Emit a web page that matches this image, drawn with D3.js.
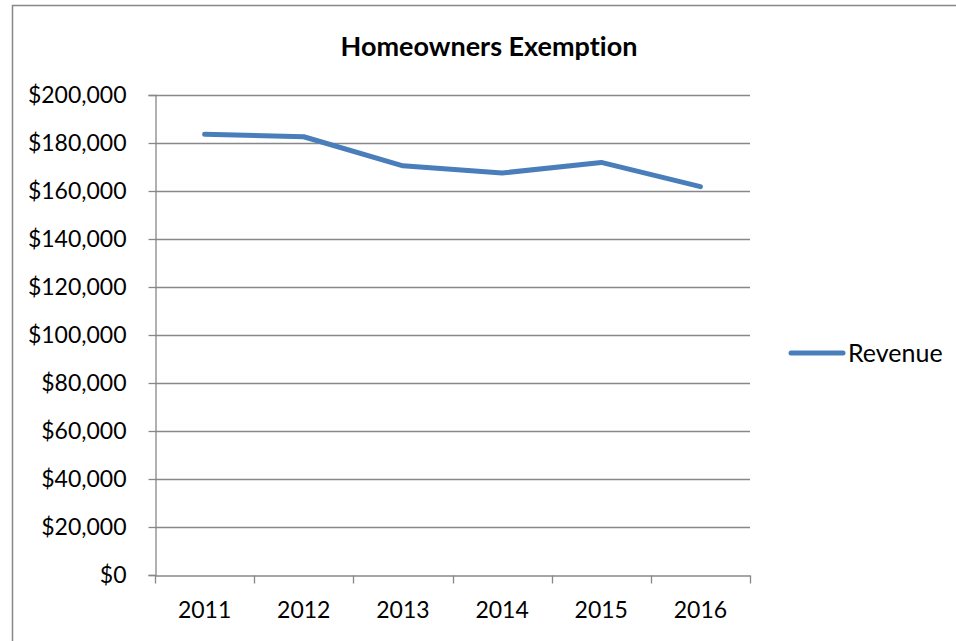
<!DOCTYPE html>
<html>
<head>
<meta charset="utf-8">
<script src="https://cdn.jsdelivr.net/npm/d3@7"></script>
<style>
  html, body { margin: 0; padding: 0; background: #fff; }
  svg { display: block; }
  text { font-variant-ligatures: none; font-feature-settings: "liga" 0; }
</style>
</head>
<body>
<svg id="chart" width="956" height="641"></svg>
<script>
const chartTitle = "Homeowners Exemption";
const seriesName = "Revenue";
const years = ["2011", "2012", "2013", "2014", "2015", "2016"];
const revenue = [183600, 182600, 170500, 167500, 171900, 161800];
const yTicks = [0, 20000, 40000, 60000, 80000, 100000, 120000, 140000, 160000, 180000, 200000];

const W = 956, H = 641;
const margin = { left: 155, right: 206, top: 95, bottom: 66 };
const svg = d3.select("#chart");
const font = "Lato, 'Open Sans', sans-serif";
const gridColor = "#888888";
const lineColor = "#4a7ebb";

// outer border
svg.append("rect")
  .attr("x", 12.5).attr("y", 5.5)
  .attr("width", W).attr("height", H)
  .attr("fill", "none").attr("stroke", "#878787").attr("stroke-width", 1.5);

const x = d3.scaleBand().domain(years).range([margin.left, W - margin.right]);
const y = d3.scaleLinear().domain([0, 200000]).range([H - margin.bottom, margin.top]);

// gridlines
svg.append("g").selectAll("line").data(yTicks.filter(d => d > 0)).join("line")
  .attr("x1", margin.left).attr("x2", W - margin.right)
  .attr("y1", d => Math.round(y(d)) + 0.5).attr("y2", d => Math.round(y(d)) + 0.5)
  .attr("stroke", gridColor).attr("stroke-width", 1.3);

// y axis
const yAxis = svg.append("g")
  .attr("transform", `translate(${margin.left + 0.5},0)`)
  .call(d3.axisLeft(y).tickValues(yTicks).tickSize(7).tickPadding(22)
    .tickFormat(d => "$" + d3.format(",")(d)));
yAxis.select(".domain").attr("stroke", gridColor).attr("stroke-width", 1.3);
yAxis.selectAll(".tick line").attr("stroke", gridColor).attr("stroke-width", 1.3);
yAxis.selectAll("text").attr("font-family", font).attr("font-size", 23).attr("fill", "#000");

// x axis
const xAxis = svg.append("g")
  .attr("transform", `translate(0,${Math.round(y(0)) + 0.5})`)
  .call(d3.axisBottom(x).tickSize(0).tickPadding(26));
xAxis.select(".domain").attr("stroke", gridColor).attr("stroke-width", 1.3);
xAxis.selectAll("text").attr("font-family", font).attr("font-size", 23).attr("fill", "#000");
// tick marks at band boundaries
const bounds = years.map(d => x(d)).concat([x(years[years.length - 1]) + x.bandwidth()]);
xAxis.append("g").selectAll("line").data(bounds).join("line")
  .attr("x1", d => Math.round(d) + 0.5).attr("x2", d => Math.round(d) + 0.5)
  .attr("y1", 0).attr("y2", 8)
  .attr("stroke", gridColor).attr("stroke-width", 1.3);

// series line
const line = d3.line()
  .x((d, i) => x(years[i]) + x.bandwidth() / 2)
  .y(d => y(d));
svg.append("path")
  .datum(revenue)
  .attr("d", line)
  .attr("fill", "none")
  .attr("stroke", lineColor)
  .attr("stroke-width", 5)
  .attr("stroke-linecap", "round")
  .attr("stroke-linejoin", "round");

// title
svg.append("text")
  .attr("x", 489).attr("y", 56)
  .attr("text-anchor", "middle")
  .attr("font-family", font).attr("font-weight", "bold").attr("font-size", 27)
  .attr("fill", "#000")
  .text(chartTitle);

// legend
const lg = svg.append("g").attr("transform", "translate(791,353)");
lg.append("line").attr("x1", 0).attr("x2", 52).attr("y1", 0).attr("y2", 0)
  .attr("stroke", lineColor).attr("stroke-width", 5).attr("stroke-linecap", "round");
lg.append("text").attr("x", 57).attr("y", 0).attr("dy", "0.35em")
  .attr("font-family", font).attr("font-size", 25).attr("fill", "#000")
  .text(seriesName);
</script>
</body>
</html>
